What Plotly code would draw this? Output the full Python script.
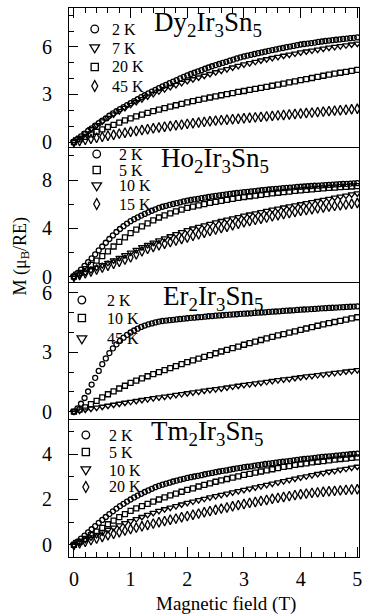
import numpy as np
import plotly.graph_objects as go
from plotly.subplots import make_subplots

# Field sweeps (T): 2 K runs were taken on a finer grid
FIELD_FINE = np.linspace(0, 5, 81)
FIELD = np.linspace(0, 5, 51)

# ---------------- Dy2Ir3Sn5 ----------------
DY_2K = [0.00, 0.18, 0.36, 0.53, 0.70, 0.87, 1.03, 1.19, 1.35, 1.50, 1.66, 1.81, 1.95, 2.08, 2.20, 2.33,
         2.45, 2.58, 2.70, 2.83, 2.95, 3.07, 3.18, 3.29, 3.40, 3.51, 3.61, 3.71, 3.81, 3.91, 4.01, 4.11,
         4.20, 4.29, 4.37, 4.45, 4.53, 4.62, 4.70, 4.78, 4.85, 4.92, 4.99, 5.06, 5.13, 5.20, 5.27, 5.34,
         5.40, 5.45, 5.50, 5.55, 5.60, 5.65, 5.70, 5.75, 5.80, 5.84, 5.89, 5.93, 5.98, 6.02, 6.06, 6.11,
         6.15, 6.18, 6.21, 6.24, 6.27, 6.31, 6.34, 6.37, 6.40, 6.42, 6.45, 6.47, 6.50, 6.52, 6.55, 6.57,
         6.60]
DY_7K = [0.00, 0.28, 0.55, 0.81, 1.06, 1.30, 1.53, 1.74, 1.95, 2.15, 2.35, 2.53, 2.71, 2.88, 3.04, 3.20,
         3.34, 3.47, 3.60, 3.73, 3.85, 3.96, 4.07, 4.18, 4.29, 4.40, 4.50, 4.60, 4.70, 4.80, 4.90, 4.98,
         5.06, 5.14, 5.22, 5.30, 5.37, 5.44, 5.51, 5.58, 5.65, 5.71, 5.77, 5.83, 5.89, 5.95, 6.00, 6.05,
         6.10, 6.15, 6.20]
DY_20K = [0.00, 0.17, 0.33, 0.49, 0.65, 0.80, 0.95, 1.09, 1.23, 1.37, 1.50, 1.62, 1.73, 1.84, 1.95, 2.05,
          2.14, 2.23, 2.32, 2.41, 2.50, 2.58, 2.66, 2.74, 2.81, 2.88, 2.95, 3.02, 3.09, 3.16, 3.22, 3.29,
          3.35, 3.42, 3.48, 3.55, 3.62, 3.69, 3.76, 3.83, 3.90, 3.97, 4.04, 4.11, 4.18, 4.25, 4.31, 4.37,
          4.43, 4.49, 4.55]
DY_45K = [0.00, 0.07, 0.14, 0.20, 0.27, 0.33, 0.40, 0.46, 0.53, 0.59, 0.65, 0.70, 0.76, 0.81, 0.87, 0.92,
          0.97, 1.01, 1.06, 1.10, 1.15, 1.19, 1.23, 1.27, 1.31, 1.35, 1.38, 1.41, 1.44, 1.47, 1.50, 1.53,
          1.56, 1.59, 1.62, 1.65, 1.68, 1.71, 1.74, 1.77, 1.80, 1.83, 1.86, 1.89, 1.92, 1.95, 1.98, 2.01,
          2.04, 2.07, 2.10]

# ---------------- Ho2Ir3Sn5 ----------------
HO_2K = [0.00, 0.29, 0.59, 0.89, 1.20, 1.52, 1.85, 2.18, 2.50, 2.81, 3.12, 3.42, 3.70, 3.95, 4.18, 4.40,
         4.60, 4.76, 4.91, 5.06, 5.20, 5.33, 5.46, 5.58, 5.70, 5.79, 5.87, 5.95, 6.02, 6.09, 6.16, 6.23,
         6.30, 6.35, 6.40, 6.45, 6.50, 6.55, 6.60, 6.65, 6.70, 6.74, 6.78, 6.81, 6.85, 6.89, 6.93, 6.96,
         7.00, 7.03, 7.06, 7.09, 7.12, 7.16, 7.19, 7.22, 7.25, 7.28, 7.30, 7.33, 7.35, 7.38, 7.40, 7.43,
         7.45, 7.47, 7.49, 7.51, 7.53, 7.54, 7.56, 7.58, 7.60, 7.62, 7.64, 7.66, 7.68, 7.69, 7.71, 7.73,
         7.75]
HO_5K = [0.00, 0.31, 0.63, 0.97, 1.33, 1.70, 2.10, 2.50, 2.89, 3.26, 3.60, 3.90, 4.17, 4.42, 4.66, 4.90,
         5.08, 5.25, 5.41, 5.56, 5.70, 5.81, 5.91, 6.01, 6.11, 6.20, 6.28, 6.36, 6.44, 6.52, 6.60, 6.66,
         6.72, 6.78, 6.84, 6.90, 6.95, 7.00, 7.05, 7.10, 7.15, 7.19, 7.23, 7.27, 7.31, 7.35, 7.38, 7.41,
         7.44, 7.47, 7.50]
HO_10K = [0.00, 0.17, 0.35, 0.55, 0.75, 0.95, 1.15, 1.35, 1.56, 1.78, 2.00, 2.22, 2.44, 2.64, 2.82, 3.00,
          3.18, 3.35, 3.52, 3.69, 3.85, 3.99, 4.12, 4.25, 4.38, 4.50, 4.61, 4.72, 4.83, 4.94, 5.05, 5.15,
          5.25, 5.35, 5.45, 5.55, 5.64, 5.73, 5.82, 5.91, 6.00, 6.09, 6.18, 6.27, 6.36, 6.45, 6.54, 6.63,
          6.72, 6.81, 6.90]
HO_15K = [0.00, 0.14, 0.28, 0.43, 0.59, 0.75, 0.91, 1.07, 1.24, 1.41, 1.60, 1.85, 2.10, 2.30, 2.46, 2.60,
          2.73, 2.86, 2.99, 3.12, 3.25, 3.38, 3.51, 3.64, 3.77, 3.90, 4.02, 4.14, 4.26, 4.38, 4.50, 4.60,
          4.70, 4.80, 4.90, 5.00, 5.09, 5.18, 5.27, 5.36, 5.45, 5.52, 5.59, 5.66, 5.73, 5.80, 5.86, 5.92,
          5.98, 6.04, 6.10]

# ---------------- Er2Ir3Sn5 ----------------
ER_2K = [0.00, 0.17, 0.40, 0.69, 1.02, 1.37, 1.71, 2.06, 2.40, 2.69, 2.96, 3.20, 3.40, 3.58, 3.74, 3.88,
         4.00, 4.10, 4.19, 4.28, 4.35, 4.41, 4.46, 4.51, 4.55, 4.58, 4.60, 4.62, 4.64, 4.66, 4.68, 4.70,
         4.72, 4.74, 4.75, 4.77, 4.78, 4.80, 4.82, 4.83, 4.85, 4.86, 4.87, 4.89, 4.90, 4.91, 4.92, 4.94,
         4.95, 4.96, 4.97, 4.99, 5.00, 5.01, 5.02, 5.04, 5.05, 5.06, 5.07, 5.09, 5.10, 5.11, 5.12, 5.14,
         5.15, 5.16, 5.17, 5.18, 5.19, 5.21, 5.22, 5.23, 5.24, 5.25, 5.26, 5.27, 5.28, 5.29, 5.30, 5.31,
         5.32]
ER_10K = [0.00, 0.10, 0.22, 0.38, 0.55, 0.72, 0.88, 1.03, 1.17, 1.31, 1.45, 1.57, 1.68, 1.79, 1.90, 2.00,
          2.10, 2.20, 2.30, 2.40, 2.50, 2.59, 2.68, 2.77, 2.86, 2.95, 3.04, 3.12, 3.21, 3.29, 3.38, 3.46,
          3.54, 3.62, 3.70, 3.78, 3.85, 3.92, 3.99, 4.06, 4.13, 4.20, 4.27, 4.34, 4.41, 4.47, 4.53, 4.59,
          4.65, 4.71, 4.77]
ER_45K = [0.00, 0.05, 0.10, 0.15, 0.20, 0.25, 0.30, 0.35, 0.40, 0.45, 0.50, 0.54, 0.59, 0.63, 0.68, 0.72,
          0.76, 0.80, 0.85, 0.89, 0.93, 0.97, 1.01, 1.06, 1.10, 1.14, 1.18, 1.22, 1.27, 1.31, 1.35, 1.39,
          1.43, 1.47, 1.51, 1.55, 1.59, 1.63, 1.66, 1.70, 1.74, 1.78, 1.81, 1.85, 1.88, 1.92, 1.96, 1.99,
          2.03, 2.06, 2.10]

# ---------------- Tm2Ir3Sn5 ----------------
TM_2K = [0.00, 0.14, 0.28, 0.41, 0.55, 0.69, 0.83, 0.97, 1.10, 1.23, 1.36, 1.48, 1.60, 1.71, 1.81, 1.91,
         2.00, 2.09, 2.17, 2.25, 2.33, 2.40, 2.47, 2.54, 2.60, 2.65, 2.70, 2.74, 2.79, 2.83, 2.87, 2.91,
         2.95, 2.98, 3.01, 3.04, 3.07, 3.11, 3.14, 3.17, 3.20, 3.23, 3.26, 3.28, 3.31, 3.34, 3.37, 3.39,
         3.42, 3.44, 3.46, 3.49, 3.51, 3.53, 3.56, 3.58, 3.60, 3.62, 3.64, 3.66, 3.68, 3.70, 3.72, 3.74,
         3.76, 3.78, 3.80, 3.81, 3.83, 3.85, 3.87, 3.88, 3.90, 3.91, 3.93, 3.94, 3.96, 3.97, 3.99, 4.00,
         4.02]
TM_5K = [0.00, 0.13, 0.27, 0.43, 0.59, 0.75, 0.91, 1.07, 1.22, 1.36, 1.50, 1.61, 1.71, 1.81, 1.91, 2.00,
         2.09, 2.18, 2.26, 2.34, 2.42, 2.49, 2.57, 2.64, 2.71, 2.78, 2.84, 2.90, 2.96, 3.02, 3.08, 3.13,
         3.18, 3.23, 3.28, 3.33, 3.38, 3.43, 3.47, 3.52, 3.56, 3.59, 3.63, 3.66, 3.69, 3.72, 3.75, 3.78,
         3.80, 3.83, 3.85]
TM_10K = [0.00, 0.11, 0.22, 0.33, 0.44, 0.55, 0.66, 0.76, 0.86, 0.96, 1.05, 1.14, 1.23, 1.32, 1.41, 1.50,
          1.57, 1.64, 1.71, 1.78, 1.85, 1.91, 1.97, 2.03, 2.09, 2.15, 2.20, 2.26, 2.31, 2.37, 2.42, 2.48,
          2.53, 2.59, 2.64, 2.70, 2.75, 2.81, 2.86, 2.92, 2.97, 3.02, 3.07, 3.12, 3.17, 3.22, 3.26, 3.31,
          3.35, 3.40, 3.44]
TM_20K = [0.00, 0.07, 0.14, 0.21, 0.28, 0.35, 0.42, 0.49, 0.56, 0.63, 0.70, 0.76, 0.82, 0.88, 0.94, 1.00,
          1.05, 1.11, 1.16, 1.22, 1.27, 1.33, 1.38, 1.44, 1.49, 1.55, 1.60, 1.65, 1.70, 1.75, 1.80, 1.85,
          1.89, 1.94, 1.98, 2.03, 2.07, 2.11, 2.15, 2.19, 2.23, 2.26, 2.29, 2.31, 2.34, 2.36, 2.38, 2.40,
          2.42, 2.44, 2.45]

COMPOUNDS = ["Dy<sub>2</sub>Ir<sub>3</sub>Sn<sub>5</sub>",
             "Ho<sub>2</sub>Ir<sub>3</sub>Sn<sub>5</sub>",
             "Er<sub>2</sub>Ir<sub>3</sub>Sn<sub>5</sub>",
             "Tm<sub>2</sub>Ir<sub>3</sub>Sn<sub>5</sub>"]

# (label, field, moment, symbol) for every isotherm in each panel
PANELS = [
    [("2 K", FIELD_FINE, DY_2K, "circle"), ("7 K", FIELD, DY_7K, "tri"),
     ("20 K", FIELD, DY_20K, "square"), ("45 K", FIELD, DY_45K, "diamond")],
    [("2 K", FIELD_FINE, HO_2K, "circle"), ("5 K", FIELD, HO_5K, "square"),
     ("10 K", FIELD, HO_10K, "tri"), ("15 K", FIELD, HO_15K, "diamond")],
    [("2 K", FIELD_FINE, ER_2K, "circle"), ("10 K", FIELD, ER_10K, "square"),
     ("45 K", FIELD, ER_45K, "tri")],
    [("2 K", FIELD_FINE, TM_2K, "circle"), ("5 K", FIELD, TM_5K, "square"),
     ("10 K", FIELD, TM_10K, "tri"), ("20 K", FIELD, TM_20K, "diamond")],
]

Y_RANGES = [[-0.31, 8.45], [-0.44, 10.74], [-0.37, 6.55], [-0.53, 5.54]]
Y_DTICK = [3, 4, 3, 2]
Y_MINOR = [1, 2, 1, 1]
X_TICKS = [0, 1, 2, 3, 4, 5]

PLOTLY_SYMBOL = {"circle": "circle-open", "square": "square-open",
                 "tri": "triangle-down-open", "diamond": "diamond-tall-open"}
MARKER_SIZE = {"circle": 5, "square": 5, "tri": 6, "diamond": 7}

FONT = "Liberation Serif, Times New Roman, serif"
W, H = 367, 615
ML, MR, MT, MB = 69, 5, 8, 58
PW, PH = W - ML - MR, H - MT - MB


def px_x(p):
    return (p - ML) / PW


def px_y(p):
    return (H - MB - p) / PH


# panel boundaries (pixel rows) -> domains
BOUNDS = [MT, 147, 282, 419, H - MB]
DOMAINS = [[px_y(BOUNDS[i + 1]), px_y(BOUNDS[i])] for i in range(4)]

fig = make_subplots(rows=4, cols=1, shared_xaxes=True, vertical_spacing=0)

for i, series in enumerate(PANELS):
    for label, fx, m, sym in series:
        fig.add_trace(go.Scatter(
            x=fx, y=m, mode="markers", name=label, showlegend=False,
            marker=dict(symbol=PLOTLY_SYMBOL[sym], size=MARKER_SIZE[sym], color="black",
                        line=dict(color="black", width=1.3)),
        ), row=i + 1, col=1)

axis_common = dict(showline=True, linecolor="black", linewidth=1,
                   showgrid=False, zeroline=False, tickcolor="black")

for i in range(4):
    r = i + 1
    fig.update_yaxes(
        row=r, col=1, domain=DOMAINS[i], range=Y_RANGES[i], autorange=False, mirror=True,
        tick0=0, dtick=Y_DTICK[i], ticks="inside", ticklen=9, tickwidth=1,
        minor=dict(dtick=Y_MINOR[i], tick0=0, ticks="inside", ticklen=5, tickcolor="black"),
        tickfont=dict(family=FONT, size=20, color="black"), ticklabelstandoff=12,
        **axis_common)
    xa = dict(range=[-0.087, 5.03], autorange=False, tickvals=X_TICKS, **axis_common)
    if r == 1:
        # top frame edge carries the ticks, the mirror closes the panel below
        xa.update(side="top", mirror=True, ticks="inside", ticklen=10, showticklabels=False,
                  minor=dict(dtick=0.2, tick0=0, ticks="inside", ticklen=5, tickcolor="black"))
    elif r == 4:
        xa.update(mirror=False, ticks="inside", ticklen=10, showticklabels=True,
                  tickfont=dict(family=FONT, size=20, color="black"), ticklabelstandoff=4,
                  minor=dict(dtick=0.2, tick0=0, ticks="inside", ticklen=5, tickcolor="black"))
    else:
        xa.update(mirror=False, ticks="", showticklabels=False)
    fig.update_xaxes(row=r, col=1, **xa)

annotations = []
shapes = []

# compound names
NAME_POS = [(153, 24), (160, 160), (162, 298), (150, 433)]
for text, (x, y) in zip(COMPOUNDS, NAME_POS):
    annotations.append(dict(text=text, x=px_x(x), y=px_y(y), xref="paper", yref="paper",
                            xanchor="left", yanchor="middle", showarrow=False,
                            font=dict(family=FONT, size=27, color="black")))

# in-panel keys: marker x, text x, row centres (pixels)
KEY_LAYOUT = [
    (95, 110, [29, 48, 67, 86]),
    (97, 118, [154, 170, 186, 204]),
    (82, 105, [300, 318, 339]),
    (86, 107, [435, 452, 470, 487]),
]


def key_shape(sym, cx, cy):
    base = dict(xref="paper", yref="paper", xsizemode="pixel", ysizemode="pixel",
                xanchor=px_x(cx), yanchor=px_y(cy), line=dict(color="black", width=1.3),
                fillcolor="rgba(0,0,0,0)")
    if sym == "circle":
        base.update(type="circle", x0=-3.8, x1=3.8, y0=-3.8, y1=3.8)
    elif sym == "square":
        base.update(type="rect", x0=-3.6, x1=3.6, y0=-3.6, y1=3.6)
    elif sym == "tri":
        base.update(type="path", path="M-4.8,3.2 L4.8,3.2 L0,-4.8 Z")
    else:
        base.update(type="path", path="M0,5.5 L3,0 L0,-5.5 L-3,0 Z")
    return base


for series, (mx, tx, rows) in zip(PANELS, KEY_LAYOUT):
    for (label, _, _, sym), ry in zip(series, rows):
        shapes.append(key_shape(sym, mx, ry))
        annotations.append(dict(text=label, x=px_x(tx), y=px_y(ry), xref="paper", yref="paper",
                                xanchor="left", yanchor="middle", showarrow=False,
                                font=dict(family=FONT, size=16, color="black")))

# axis titles
annotations.append(dict(text="Magnetic field (T)", x=px_x(228), y=px_y(604), xref="paper",
                        yref="paper", xanchor="center", yanchor="middle", showarrow=False,
                        font=dict(family=FONT, size=19, color="black")))
annotations.append(dict(text="M (μ<sub>B</sub>/RE)", x=px_x(20), y=px_y(256), xref="paper",
                        yref="paper", xanchor="center", yanchor="middle", showarrow=False,
                        textangle=-90, font=dict(family=FONT, size=18, color="black")))

fig.update_layout(
    width=W, height=H, margin=dict(l=ML, r=MR, t=MT, b=MB),
    paper_bgcolor="white", plot_bgcolor="white",
    font=dict(family=FONT, color="black"),
    annotations=annotations, shapes=shapes, showlegend=False,
)

fig.write_html("out.html")
